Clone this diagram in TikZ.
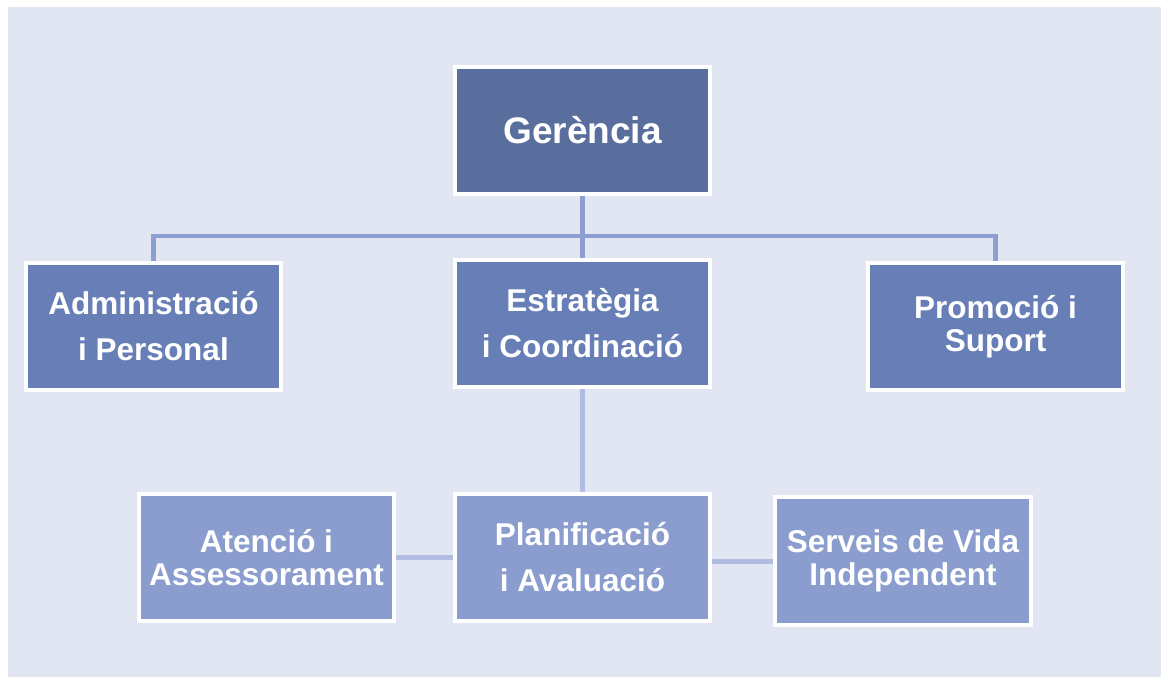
\documentclass[tikz,border=0pt]{standalone}
\usepackage{fontspec}
\setmainfont{Liberation Sans}
\pgfdeclarelayer{back}
\pgfdeclarelayer{bg}
\pgfsetlayers{back,bg,main}
\definecolor{panel}{HTML}{E2E6F3}
\definecolor{topfill}{HTML}{5A6E9E}
\definecolor{midfill}{HTML}{687EB6}
\definecolor{lowfill}{HTML}{8A9DCE}
\definecolor{treeline}{HTML}{8C9FD0}
\definecolor{lowline}{HTML}{B0BCE0}
\tikzset{
  orgbox/.style={rectangle, draw=white, line width=4pt, text=white,
    minimum width=255pt, minimum height=127pt, inner sep=0pt, align=center,
    font=\bfseries\fontsize{31.5}{46}\selectfont},
  tightbox/.style={orgbox, font=\bfseries\fontsize{31.5}{33.5}\selectfont},
  treeconn/.style={draw=treeline, line width=4.5pt},
  lowconn/.style={draw=lowline, line width=5pt}
}
\begin{document}
\begin{tikzpicture}[x=1pt,y=-1pt]
\useasboundingbox (0,0) rectangle (1161,677);
\begin{pgfonlayer}{back}
\fill[white] (0,0) rectangle (1161,677);
\fill[panel] (8,7) rectangle (1161,677);
\end{pgfonlayer}

\node[orgbox, fill=topfill, font=\bfseries\fontsize{37}{40}\selectfont] (ger) at (582.5,130.5) {Gerència};
\node[orgbox, fill=midfill] (adm) at (153.5,326.5) {Administració\\i Personal};
\node[orgbox, fill=midfill] (est) at (582.5,323.5) {Estratègia\\i Coordinació};
\node[tightbox, fill=midfill] (pro) at (995.5,326.5) {Promoció i\\Suport};
\node[orgbox, fill=lowfill] (pla) at (582.5,557.5) {Planificació\\i Avaluació};
\node[tightbox, fill=lowfill] (ate) at (266.5,557.5) {Atenció i\\Assessorament};
\node[tightbox, fill=lowfill, minimum width=256pt, minimum height=128pt] (ser) at (903,561) {Serveis de Vida\\Independent};

\coordinate (bus) at (582.5,236);
\begin{pgfonlayer}{bg}
\draw[treeconn] (ger.south) -- (est.north);
\draw[treeconn] (adm.north) |- (bus) -| (pro.north);
\draw[lowconn] (est.south) -- (pla.north);
\draw[lowconn] (ate.east) -- (pla.west);
\draw[lowconn] (ser.west) -- (ser.west -| pla.east);
\end{pgfonlayer}
\end{tikzpicture}
\end{document}
